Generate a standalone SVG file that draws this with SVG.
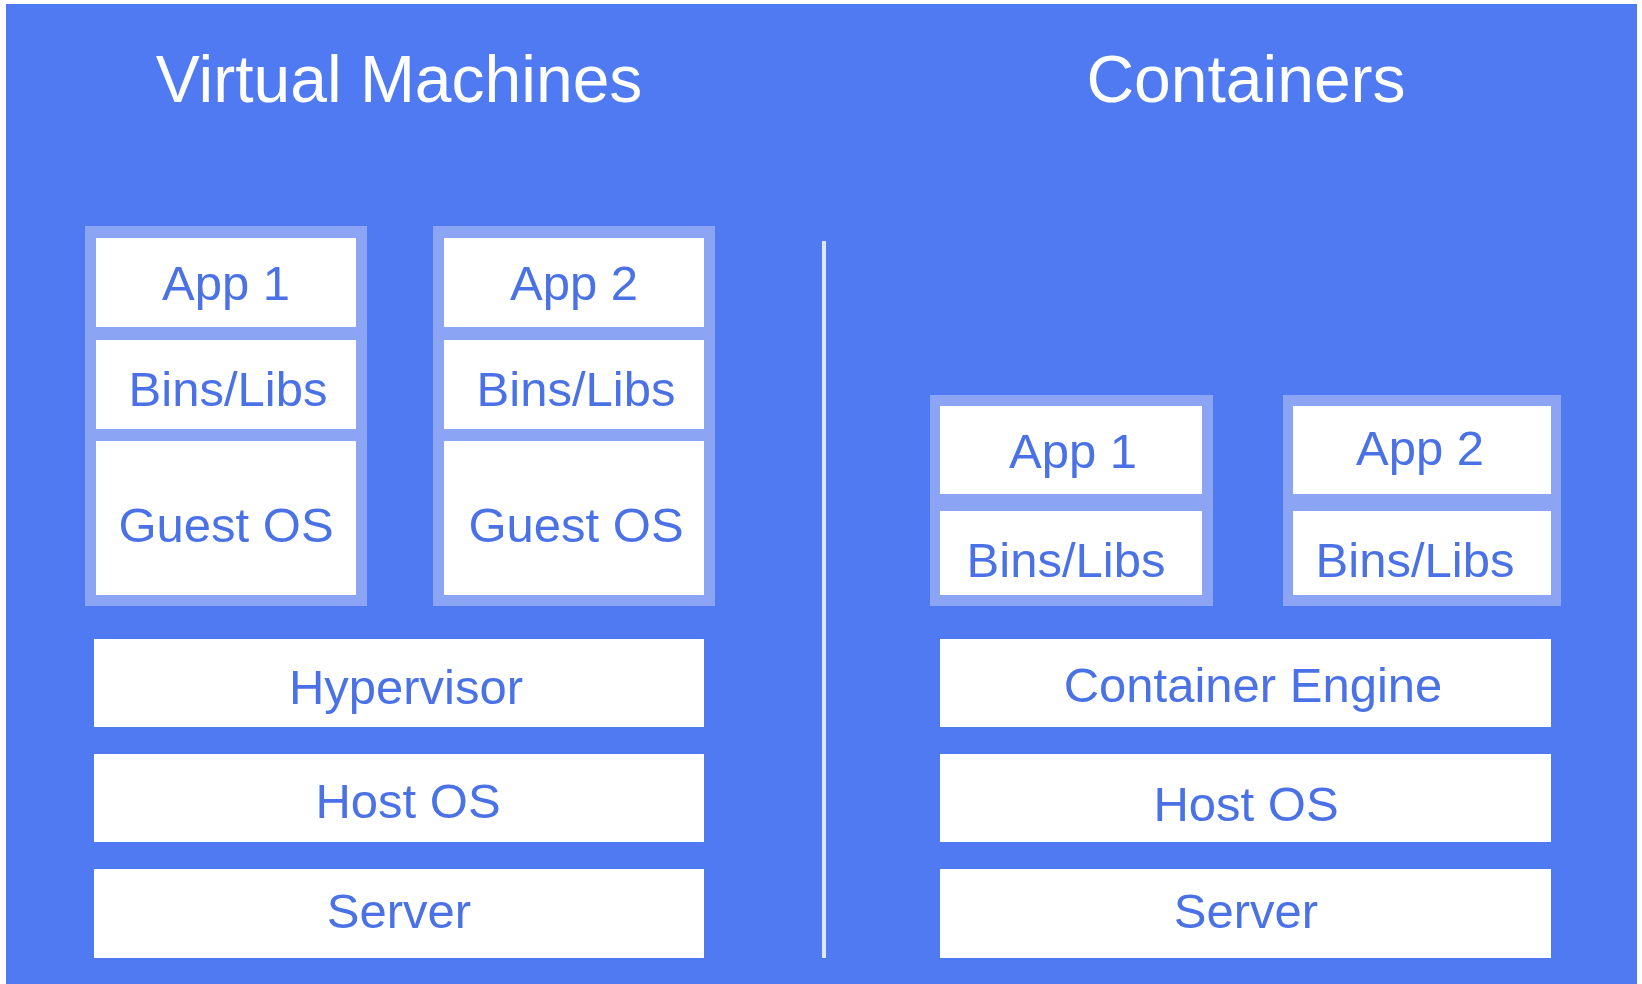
<svg xmlns="http://www.w3.org/2000/svg" width="1642" height="984" viewBox="0 0 1642 984">
<style>
.frame{fill:#8BA4F4}
.box{fill:#FFFFFF}
.lbl{font-family:"Liberation Sans",Arial,sans-serif;font-size:49px;fill:#4A72E6;text-anchor:middle}
.title{font-family:"Liberation Sans",Arial,sans-serif;font-size:66px;fill:#FFFFFF;text-anchor:middle}
</style>
<rect x="0" y="0" width="1642" height="984" fill="#FFFFFF"/>
<rect x="6" y="4" width="1631" height="980" fill="#4F7AF2"/>
<text class="title" x="399" y="102">Virtual Machines</text>
<text class="title" x="1246" y="102">Containers</text>
<g id="connectors">
<line x1="824" y1="241" x2="824" y2="958" stroke="#DCE6FF" stroke-width="4"/>
</g>
<g id="vm1">
<rect class="frame" x="85" y="226" width="282" height="380"/>
<rect class="box" x="96" y="238" width="260" height="89"/>
<rect class="box" x="96" y="340" width="260" height="89"/>
<rect class="box" x="96" y="441" width="260" height="154"/>
<text class="lbl" x="226" y="300">App 1</text>
<text class="lbl" x="228" y="406">Bins/Libs</text>
<text class="lbl" x="226" y="542">Guest OS</text>
</g>
<g id="vm2">
<rect class="frame" x="433" y="226" width="282" height="380"/>
<rect class="box" x="444" y="238" width="260" height="89"/>
<rect class="box" x="444" y="340" width="260" height="89"/>
<rect class="box" x="444" y="441" width="260" height="154"/>
<text class="lbl" x="574" y="300">App 2</text>
<text class="lbl" x="576" y="406">Bins/Libs</text>
<text class="lbl" x="576" y="542">Guest OS</text>
</g>
<g id="hypervisor">
<rect class="box" x="94" y="639" width="610" height="88"/>
<text class="lbl" x="406" y="704">Hypervisor</text>
</g>
<g id="vm-hostos">
<rect class="box" x="94" y="754" width="610" height="88"/>
<text class="lbl" x="408" y="818">Host OS</text>
</g>
<g id="vm-server">
<rect class="box" x="94" y="869" width="610" height="89"/>
<text class="lbl" x="399" y="928">Server</text>
</g>
<g id="c1">
<rect class="frame" x="930" y="395" width="283" height="211"/>
<rect class="box" x="940" y="406" width="262" height="88"/>
<rect class="box" x="940" y="511" width="262" height="84"/>
<text class="lbl" x="1073" y="468">App 1</text>
<text class="lbl" x="1066" y="577">Bins/Libs</text>
</g>
<g id="c2">
<rect class="frame" x="1283" y="395" width="278" height="211"/>
<rect class="box" x="1293" y="406" width="258" height="88"/>
<rect class="box" x="1293" y="511" width="258" height="84"/>
<text class="lbl" x="1420" y="465">App 2</text>
<text class="lbl" x="1415" y="577">Bins/Libs</text>
</g>
<g id="engine">
<rect class="box" x="940" y="639" width="611" height="88"/>
<text class="lbl" x="1253" y="702">Container Engine</text>
</g>
<g id="c-hostos">
<rect class="box" x="940" y="754" width="611" height="88"/>
<text class="lbl" x="1246" y="821">Host OS</text>
</g>
<g id="c-server">
<rect class="box" x="940" y="869" width="611" height="89"/>
<text class="lbl" x="1246" y="928">Server</text>
</g>
</svg>
